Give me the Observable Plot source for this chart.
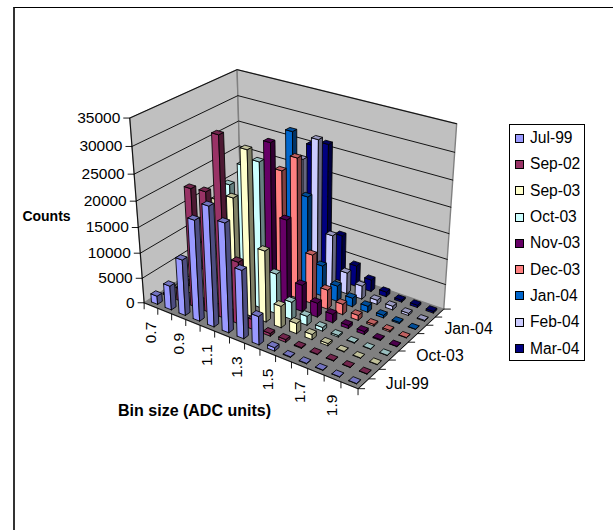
<!DOCTYPE html>
<html><head><meta charset="utf-8">
<script src="https://cdn.jsdelivr.net/npm/d3@7"></script>
<script src="https://cdn.jsdelivr.net/npm/@observablehq/plot@0.6"></script>
<style>
html,body{margin:0;background:#fff}
#chart{position:relative;width:613px;height:530px;font-family:"Liberation Sans",sans-serif;color:#000;overflow:hidden}
#chart::before{content:"";position:absolute;left:13px;top:7px;right:0;bottom:0;border-left:2px solid #333;border-top:1px solid #000}
#chart svg{position:absolute;left:0;top:0}
#legend{position:absolute;left:509px;top:124px;width:76px;height:237px;border:1px solid #000;box-sizing:border-box;background:#fff;padding:0 0 0 5px;font-size:15.6px}
#legend div{height:26.3px;display:flex;align-items:center;gap:6px;white-space:nowrap}
#legend i{display:block;width:7px;height:7px;border:1px solid #000}
</style>
</head><body><div id="chart"><div id="legend"></div></div><script>
// Bin sizes and acquisition dates.
const bins=["0.7","0.8","0.9","1.0","1.1","1.2","1.3","1.4","1.5","1.6","1.7","1.8","1.9","2.0"];
const series=["Jul-99","Sep-02","Sep-03","Oct-03","Nov-03","Dec-03","Jan-04","Feb-04","Mar-04"];
const colors=["#9999ff","#993366","#ffffcc","#ccffff","#660066","#ff8080","#0066cc","#ccccff","#000080"];
// Counts per bin for each date.
const jul99=[1670,4800,11000,19500,23000,20900,13200,5550,680,120,90,70,60,50];
const sep02=[300,2500,23100,23400,34300,12200,1970,540,530,155,110,90,70,60];
const sep03=[300,1500,6000,20600,21900,31400,13900,4270,2030,1020,430,100,80,60];
const oct03=[300,1500,6000,22200,26600,28100,7960,3470,1790,730,310,110,80,60];
const nov03=[200,500,2000,8000,18000,30400,17000,5300,2800,1700,640,600,190,60];
const dec03=[200,500,2000,6000,16000,24100,27300,9800,3850,2110,1000,340,300,80];
const jan04=[200,500,2000,6000,16000,30200,18800,6140,3120,1750,1220,520,250,60];
const feb04=[200,500,2000,6000,14000,23900,28400,10800,4270,2660,860,740,440,160];
const mar04=[200,500,2000,6000,12000,25400,26400,9400,4230,2370,950,390,470,360];
const table=[jul99,sep02,sep03,oct03,nov03,dec03,jan04,feb04,mar04];
const maxCount=35000, yTicks=[0,5000,10000,15000,20000,25000,30000,35000];

// Projective camera for the unit box (bin axis, date axis, count axis).
const cam=[172.877805,124.176674,-25.141749,143.652408,
           41.385813,-36.834724,-194.498972,302.260354,
           -0.114709,0.108965,-0.083263];
const project=(x,y,z)=>{const w=cam[8]*x+cam[9]*y+cam[10]*z+1;
  return [(cam[0]*x+cam[1]*y+cam[2]*z+cam[3])/w,(cam[4]*x+cam[5]*y+cam[6]*z+cam[7])/w]};

// Every face is a closed ring of projected corners.
let faces=[],id=0;
const face=(corners,fill,stroke)=>{const k=id++;for(const c of [...corners,corners[0]]){const[px,py]=project(...c);faces.push({k,px,py,fill,stroke})}};
face([[0,0,0],[1,0,0],[1,1,0],[0,1,0]],"#808080","#808080");
face([[0,0,0],[0,1,0],[0,1,1],[0,0,1]],"#c0c0c0","#808080");
face([[0,1,0],[1,1,0],[1,1,1],[0,1,1]],"#c0c0c0","#808080");
const walls=faces.slice();

const gridLines=[];
yTicks.slice(1).forEach(t=>{const z=t/maxCount;for(const c of [[0,0,z],[0,1,z],[1,1,z]]){const[px,py]=project(...c);gridLines.push({t,px,py})}});

// Axis lines and short screen-aligned ticks.
const seg=(a,b)=>{const p=project(...a),q=project(...b);return{x1:p[0],y1:p[1],x2:q[0],y2:q[1]}};
const tick=(c,dx,dy)=>{const[px,py]=project(...c);return{x1:px,y1:py,x2:px+dx,y2:py+dy}};
const axes=[seg([0,0,0],[0,0,1]),seg([0,0,0],[1,0,0]),seg([1,0,0],[1,1,0])];
yTicks.forEach(t=>axes.push(tick([0,0,t/maxCount],-6.5,0)));
d3.range(bins.length+1).forEach(i=>axes.push(tick([i/bins.length,0,0],0,6.5)));
d3.range(series.length+1).forEach(j=>axes.push(tick([1,j/series.length,0],7,0)));

// Bars: back row first, then left to right, so nearer bars cover farther ones.
const wx=.45,wy=.4;
const shade=(c,k)=>{const r=d3.rgb(c);return d3.rgb(r.r*k,r.g*k,r.b*k).formatHex()};
for(let j=series.length-1;j>=0;j--)for(let i=0;i<bins.length;i++){
  const v=table[j][i]/maxCount,c=colors[j],
    x0=(i+.5-wx/2)/bins.length,x1=(i+.5+wx/2)/bins.length,y0=(j+.5-wy/2)/series.length,y1=(j+.5+wy/2)/series.length;
  face([[x0,y0,0],[x1,y0,0],[x1,y0,v],[x0,y0,v]],c,"#000");
  face([[x1,y0,0],[x1,y1,0],[x1,y1,v],[x1,y0,v]],shade(c,.5),"#000");
  face([[x0,y0,v],[x1,y0,v],[x1,y1,v],[x0,y1,v]],shade(c,.75),"#000");
}
const bars=faces.slice(walls.length);

const yLabels=yTicks.map(t=>{const[px,py]=project(0,0,t/maxCount);return{t,px,py}});
const binLabels=bins.map((s,i)=>({s,i})).filter(d=>d.i%2==0).map(d=>{const[px,py]=project((d.i+.5)/bins.length,0,0);return{s:d.s,px,py}});
const seriesLabels=series.map((s,j)=>({s,j})).filter(d=>d.j%3==0).map(d=>{const[px,py]=project(1,(d.j+.5)/series.length,0);return{s:d.s,px,py}});

const plot=Plot.plot({width:613,height:530,margin:0,
  x:{domain:[0,613],range:[0,613],axis:null},y:{domain:[0,530],range:[0,530],axis:null},color:{type:"identity"},
  style:{background:"transparent",fontFamily:"Liberation Sans"},
  marks:[
   Plot.line(walls,{x:"px",y:"py",z:"k",fill:"fill",stroke:"stroke",strokeWidth:1.4}),
   Plot.line(gridLines,{x:"px",y:"py",z:"t",stroke:"#000",strokeWidth:.9}),
   Plot.link(axes,{x1:"x1",y1:"y1",x2:"x2",y2:"y2",stroke:"#000",strokeWidth:.9}),
   Plot.line(bars,{x:"px",y:"py",z:"k",fill:"fill",stroke:"stroke",strokeWidth:.85}),
   Plot.text(yLabels,{x:"px",y:"py",text:d=>String(d.t),textAnchor:"end",dx:-9.5,fontSize:15.5,fill:"#000"}),
   Plot.text(binLabels,{x:"px",y:"py",text:"s",rotate:-90,dy:27,fontSize:15.5,fill:"#000"}),
   Plot.text(seriesLabels,{x:"px",y:"py",text:"s",textAnchor:"start",dx:22.5,fontSize:15.8,fill:"#000"}),
   Plot.text(["Counts"],{x:[46],y:[216],fontWeight:"bold",fontSize:14,fill:"#000"}),
   Plot.text(["Bin size (ADC units)"],{x:[194],y:[410],fontWeight:"bold",fontSize:16,fill:"#000"})
  ]});
document.getElementById("chart").prepend(plot);
const lg=document.getElementById("legend");
series.forEach((s,i)=>{const r=document.createElement("div");const sw=document.createElement("i");sw.style.background=colors[i];const t=document.createElement("span");t.textContent=s;r.append(sw,t);lg.append(r)});
</script></body></html>
